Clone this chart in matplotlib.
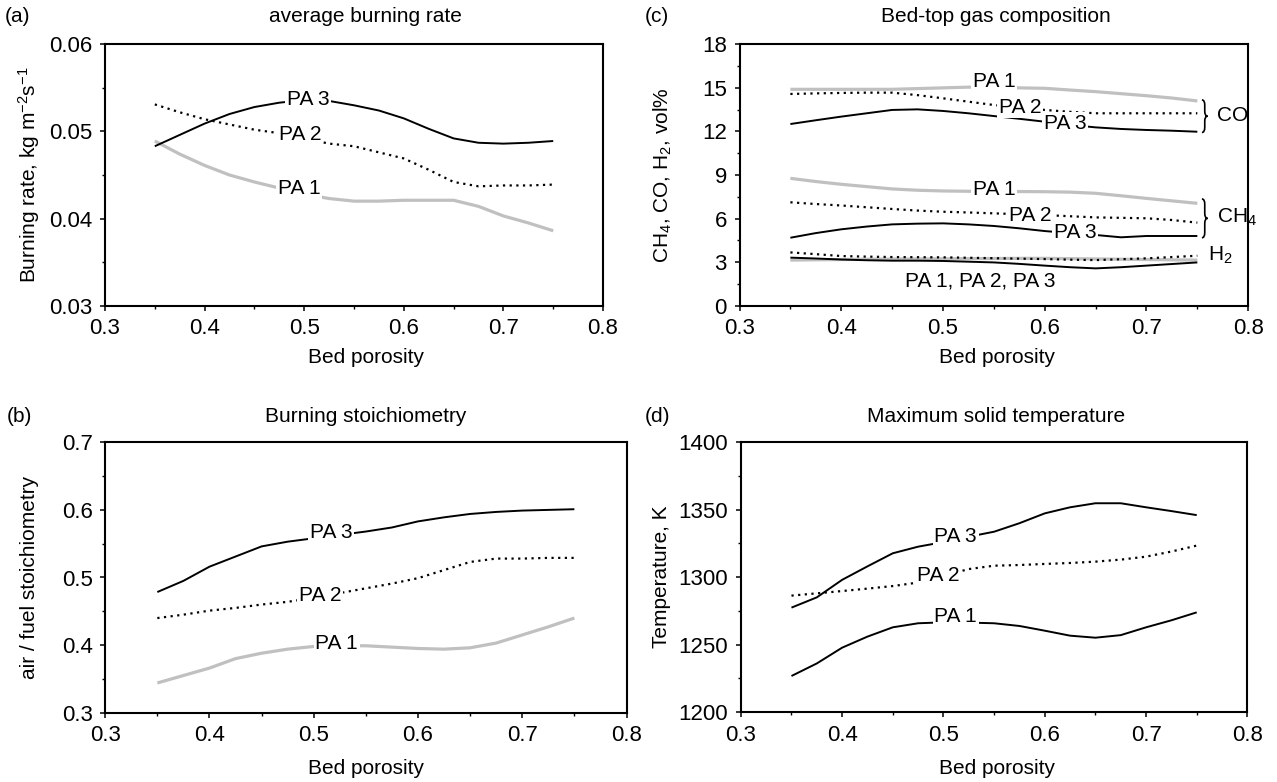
import numpy as np
import matplotlib
matplotlib.use("Agg")
import matplotlib.pyplot as plt
from matplotlib.path import Path
from matplotlib.patches import PathPatch
from matplotlib.ticker import MultipleLocator

plt.rcParams['font.family'] = ['Liberation Sans', 'DejaVu Sans']
plt.rcParams['mathtext.fontset'] = 'custom'
plt.rcParams['mathtext.rm'] = 'Liberation Sans'
plt.rcParams['mathtext.it'] = 'Liberation Sans:italic'
plt.rcParams['mathtext.bf'] = 'Liberation Sans:bold'

# ---------------- data ----------------
porosity = [0.35, 0.375, 0.4, 0.425, 0.45, 0.475, 0.5, 0.525, 0.55, 0.575,
            0.6, 0.625, 0.65, 0.675, 0.7, 0.725, 0.75]

# (a) average burning rate, kg m-2 s-1
rate_pa1 = [0.0489, 0.0474, 0.0461, 0.0450, 0.0442, 0.0435, 0.0428, 0.0423, 0.0420, 0.0420,
            0.0421, 0.0421, 0.0421, 0.0414, 0.0403, 0.0395, 0.0386]
rate_pa2 = [0.0531, 0.0522, 0.0514, 0.0508, 0.0502, 0.0498, 0.0492, 0.0486, 0.0483, 0.0476,
            0.0469, 0.0456, 0.0442, 0.0437, 0.0438, 0.0438, 0.0439]
rate_pa3 = [0.0483, 0.0496, 0.0509, 0.0520, 0.0528, 0.0533, 0.0536, 0.0535, 0.0530, 0.0524,
            0.0515, 0.0503, 0.0492, 0.0487, 0.0486, 0.0487, 0.0489]

# (b) burning stoichiometry
stoich_pa1 = [0.344, 0.355, 0.366, 0.380, 0.388, 0.394, 0.398, 0.399, 0.399, 0.397,
              0.395, 0.394, 0.396, 0.403, 0.415, 0.427, 0.440]
stoich_pa2 = [0.440, 0.445, 0.451, 0.455, 0.460, 0.464, 0.470, 0.477, 0.484, 0.491,
              0.499, 0.511, 0.523, 0.528, 0.528, 0.529, 0.529]
stoich_pa3 = [0.4785, 0.495, 0.516, 0.531, 0.546, 0.553, 0.558, 0.563, 0.568, 0.574,
              0.583, 0.589, 0.594, 0.597, 0.599, 0.600, 0.601]

# (c) bed-top gas composition, vol%
co_pa1 = [14.9, 14.9, 14.9, 14.9, 14.9, 14.95, 15.0, 15.05, 15.05, 15.0,
          14.97, 14.85, 14.74, 14.6, 14.46, 14.3, 14.1]
co_pa2 = [14.58, 14.62, 14.65, 14.67, 14.67, 14.5, 14.28, 14.05, 13.82, 13.65,
          13.48, 13.35, 13.25, 13.25, 13.25, 13.25, 13.25]
co_pa3 = [12.51, 12.77, 13.02, 13.25, 13.48, 13.52, 13.41, 13.25, 13.06, 12.87,
          12.67, 12.45, 12.28, 12.17, 12.1, 12.05, 11.98]
ch4_pa1 = [8.77, 8.55, 8.36, 8.2, 8.04, 7.95, 7.9, 7.88, 7.87, 7.86,
           7.85, 7.82, 7.74, 7.57, 7.39, 7.22, 7.05]
ch4_pa2 = [7.12, 7.0, 6.9, 6.78, 6.66, 6.55, 6.47, 6.42, 6.36, 6.3,
           6.24, 6.16, 6.08, 6.05, 6.02, 5.9, 5.72]
ch4_pa3 = [4.68, 5.0, 5.26, 5.45, 5.60, 5.65, 5.67, 5.6, 5.49, 5.33,
           5.14, 5.0, 4.87, 4.71, 4.8, 4.8, 4.8]
h2_pa1 = [3.14, 3.16, 3.18, 3.2, 3.21, 3.22, 3.23, 3.24, 3.25, 3.26,
          3.26, 3.24, 3.22, 3.2, 3.18, 3.16, 3.14]
h2_pa2 = [3.67, 3.55, 3.42, 3.38, 3.35, 3.34, 3.33, 3.3, 3.27, 3.24,
          3.21, 3.17, 3.14, 3.2, 3.26, 3.35, 3.44]
h2_pa3 = [3.31, 3.25, 3.18, 3.13, 3.1, 3.1, 3.08, 3.03, 2.98, 2.88,
          2.76, 2.65, 2.57, 2.65, 2.76, 2.87, 2.98]

# (d) maximum solid temperature, K
temp_pa1 = [1226.7, 1236, 1247.7, 1255.9, 1262.8, 1265.8, 1266.5, 1266.3, 1265.8, 1263.8,
            1260.3, 1256.6, 1255.1, 1257, 1262.8, 1268, 1273.9]
temp_pa2 = [1286.3, 1288, 1289.7, 1291.5, 1293.4, 1296, 1301, 1306, 1308.5, 1309,
            1309.8, 1310.5, 1311.5, 1313, 1315.2, 1319, 1323.4]
temp_pa3 = [1277.4, 1285, 1298, 1308, 1317.7, 1322.6, 1326, 1330, 1333.7, 1340,
            1347.3, 1351.8, 1354.8, 1354.8, 1351.8, 1349, 1346]

# ---------------- styles ----------------
FS = 15
TFS = 16
GREY = '#c0c0c0'
solid_k = dict(color='black', lw=1.4, ls='-', solid_capstyle='butt')
grey_s = dict(color=GREY, lw=2.3, ls='-', solid_capstyle='butt')
dot_k = dict(color='black', lw=1.6, ls=(0, (1.0, 2.0)))

W, H = 1277, 782
fig = plt.figure(figsize=(W / 100, H / 100), dpi=100)


def px_axes(l, r, t, b):
    return fig.add_axes([l / W, 1 - b / H, (r - l) / W, (b - t) / H])


def style(ax, ylim, ymajor, yminor, ylabel, xlab_xy, ylab_xy):
    ax.set_xlim(0.3, 0.8)
    ax.set_ylim(*ylim)
    ax.xaxis.set_major_locator(MultipleLocator(0.1))
    ax.xaxis.set_minor_locator(MultipleLocator(0.05))
    ax.yaxis.set_major_locator(MultipleLocator(ymajor))
    ax.yaxis.set_minor_locator(MultipleLocator(yminor))
    ax.tick_params(which='major', direction='out', length=3.6, width=1.1,
                   labelsize=TFS, pad=5.5)
    ax.tick_params(which='minor', direction='out', length=2.4, width=1.0)
    for s in ax.spines.values():
        s.set_linewidth(1.5)
    ax.set_xlabel('Bed porosity', fontsize=FS)
    ax.xaxis.set_label_coords(*xlab_xy)
    ax.xaxis.label.set_va('center')
    ax.set_ylabel(ylabel, fontsize=FS)
    ax.yaxis.set_label_coords(*ylab_xy)
    ax.yaxis.label.set_va('center')


def tag(ax, x, y, s):
    ax.text(x, y, s, fontsize=FS, ha='center', va='center', zorder=5,
            bbox=dict(boxstyle='square,pad=0.08', fc='white', ec='none'))


def brace(ax, x0, y0, y1, w, r):
    xm = x0 + w / 2
    ym = (y0 + y1) / 2
    verts = [(x0, y0), (xm, y0), (xm, y0 + r),
             (xm, ym - r),
             (xm, ym), (x0 + w, ym),
             (xm, ym), (xm, ym + r),
             (xm, y1 - r),
             (xm, y1), (x0, y1)]
    codes = [Path.MOVETO, Path.CURVE3, Path.CURVE3,
             Path.LINETO,
             Path.CURVE3, Path.CURVE3,
             Path.CURVE3, Path.CURVE3,
             Path.LINETO,
             Path.CURVE3, Path.CURVE3]
    ax.add_patch(PathPatch(Path(verts, codes), fc='none', ec='black',
                           lw=1.2, clip_on=False, zorder=6))


x = porosity

# (a)
axa = px_axes(105, 603, 44.3, 305.7)
axa.plot(x, rate_pa1, **grey_s)
axa.plot(x, rate_pa2, **dot_k)
axa.plot(x, rate_pa3, **solid_k)
style(axa, (0.03, 0.06), 0.01, 0.005,
      'Burning rate, kg m$^{-2}$s$^{-1}$', (0.524, -0.200), (-0.152, 0.5))
axa.yaxis.set_major_formatter(matplotlib.ticker.FormatStrFormatter('%.2f'))
tag(axa, 0.5037, 0.0537, 'PA 3')
tag(axa, 0.496, 0.0497, 'PA 2')
tag(axa, 0.495, 0.0435, 'PA 1')

# (c)
axc = px_axes(739.5, 1248.2, 44.3, 305.7)
for pa1, pa2, pa3 in [(co_pa1, co_pa2, co_pa3), (ch4_pa1, ch4_pa2, ch4_pa3),
                      (h2_pa1, h2_pa2, h2_pa3)]:
    axc.plot(x, pa1, **grey_s)
    axc.plot(x, pa2, **dot_k)
    axc.plot(x, pa3, **solid_k)
style(axc, (0, 18), 3, 1.5, 'CH$_4$, CO, H$_2$, vol%', (0.506, -0.200), (-0.150, 0.5))
tag(axc, 0.55, 15.47, 'PA 1')
tag(axc, 0.576, 13.66, 'PA 2')
tag(axc, 0.62, 12.56, 'PA 3')
tag(axc, 0.55, 7.97, 'PA 1')
tag(axc, 0.586, 6.24, 'PA 2')
tag(axc, 0.63, 5.05, 'PA 3')
axc.text(0.537, 1.7, 'PA 1, PA 2, PA 3', fontsize=FS, ha='center', va='center')
brace(axc, 0.7545, co_pa3[-1] - 0.05, co_pa1[-1] + 0.07, 0.0056, 0.35)
brace(axc, 0.7545, ch4_pa3[-1] - 0.12, ch4_pa1[-1] + 0.3, 0.0056, 0.35)
axc.text(0.769, 13.1, 'CO', fontsize=FS, ha='left', va='center')
axc.text(0.7695, 6.05, 'CH$_4$', fontsize=FS, ha='left', va='center')
axc.text(0.760, 3.5, 'H$_2$', fontsize=FS, ha='left', va='center')

# (b)
axb = px_axes(105.2, 626.5, 442.3, 712.7)
axb.plot(x, stoich_pa1, **grey_s)
axb.plot(x, stoich_pa2, **dot_k)
axb.plot(x, stoich_pa3, **solid_k)
style(axb, (0.3, 0.7), 0.1, 0.05, 'air / fuel stoichiometry', (0.500, -0.206), (-0.145, 0.5))
tag(axb, 0.517, 0.566, 'PA 3')
tag(axb, 0.506, 0.474, 'PA 2')
tag(axb, 0.522, 0.4025, 'PA 1')

# (d)
axd = px_axes(740.8, 1247.4, 442.3, 712)
axd.plot(x, temp_pa1, **solid_k)
axd.plot(x, temp_pa2, **dot_k)
axd.plot(x, temp_pa3, **solid_k)
style(axd, (1200, 1400), 50, 25, 'Temperature, K', (0.506, -0.209), (-0.157, 0.5))
tag(axd, 0.512, 1330, 'PA 3')
tag(axd, 0.495, 1300.9, 'PA 2')
tag(axd, 0.512, 1270.7, 'PA 1')

# titles and panel letters
def ftext(px, py, s, ha='center'):
    fig.text(px / W, 1 - py / H, s, fontsize=FS, ha=ha, va='center')

ftext(365.4, 17, 'average burning rate')
ftext(996.3, 17, 'Bed-top gas composition')
ftext(365.6, 417, 'Burning stoichiometry')
ftext(995.9, 417, 'Maximum solid temperature')
ftext(5, 16, '(a)', ha='left')
ftext(645, 16, '(c)', ha='left')
ftext(7, 417, '(b)', ha='left')
ftext(645, 417, '(d)', ha='left')

fig.savefig('out.png', dpi=100)
